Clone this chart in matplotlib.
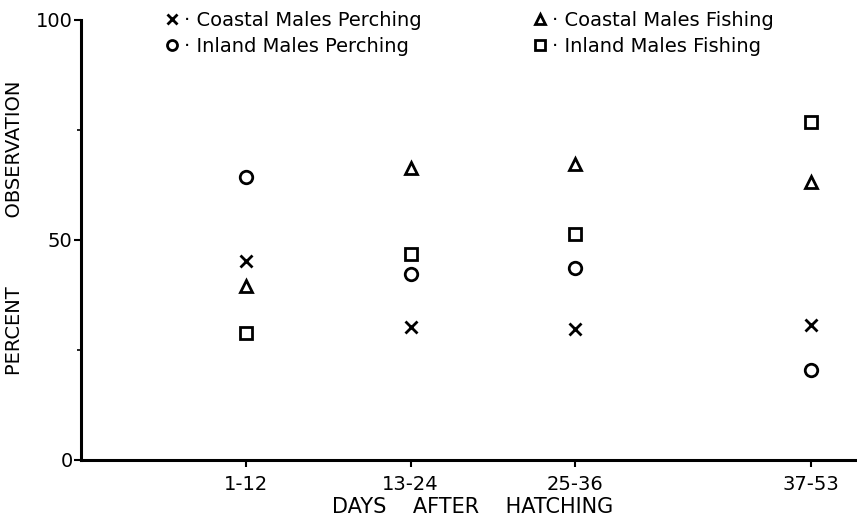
import numpy as np
import matplotlib
matplotlib.use('Agg')
import matplotlib.pyplot as plt
from matplotlib.ticker import FixedLocator

# age groups (days after hatching)
days = ['1-12', '13-24', '25-36', '37-53']
xpos = [1, 2, 3, 4.43]

# percent observation per group
coastal_perch = [45.2, 30.2, 29.8, 30.7]
inland_perch = [64.3, 42.3, 43.6, 20.5]
coastal_fish = [39.5, 66.4, 67.3, 63.2]
inland_fish = [28.9, 46.8, 51.4, 76.8]

plt.rcParams['font.family'] = ['DejaVu Sans']

fig = plt.figure(figsize=(8.57, 5.19), dpi=100)
ax = fig.add_axes([0.0945, 0.1137, 0.9055, 0.8478])

kw = dict(linestyle='None', color='black', markersize=9, markeredgewidth=2,
          markerfacecolor='none', clip_on=False)
ax.plot(xpos, coastal_perch, marker='x', label='\u00b7 Coastal Males Perching', **kw)
ax.plot(xpos, inland_perch, marker='o', label='\u00b7 Inland Males Perching', **kw)
ax.plot(xpos, coastal_fish, marker='^', label='\u00b7 Coastal Males Fishing', **kw)
ax.plot(xpos, inland_fish, marker='s', label='\u00b7 Inland Males Fishing', **kw)

ax.set_xlim(0, 4.71)
ax.set_ylim(0, 100)
ax.set_xticks(xpos)
ax.set_xticklabels(days, fontsize=14)
ax.set_yticks([0, 50, 100])
ax.set_yticklabels(['0', '50', '100'], fontsize=14)
ax.yaxis.set_minor_locator(FixedLocator([25, 75]))

for s in ['top', 'right']:
    ax.spines[s].set_visible(False)
for s in ['left', 'bottom']:
    ax.spines[s].set_linewidth(2.2)

ax.tick_params(axis='both', which='major', direction='out', length=5, width=1.5)
ax.tick_params(axis='y', which='minor', direction='out', length=3, width=1.2)
ax.tick_params(axis='y', pad=1)
ax.tick_params(axis='x', pad=6)

ax.set_xlabel('DAYS    AFTER    HATCHING', fontsize=15)
ax.set_ylabel('PERCENT' + ' ' * 11 + 'OBSERVATION', fontsize=14)
ax.xaxis.set_label_coords(0.505, -0.083, transform=ax.transAxes)
ax.yaxis.set_label_coords(-0.074, 0.527, transform=ax.transAxes)

ax.legend(loc='upper left', bbox_to_anchor=(0.087, 1.06), ncol=2, frameon=False,
          fontsize=14, handlelength=0.6, handletextpad=0.35, columnspacing=5.75,
          labelspacing=0.35, numpoints=1, markerscale=0.8)

fig.savefig('out.png', dpi=100)
